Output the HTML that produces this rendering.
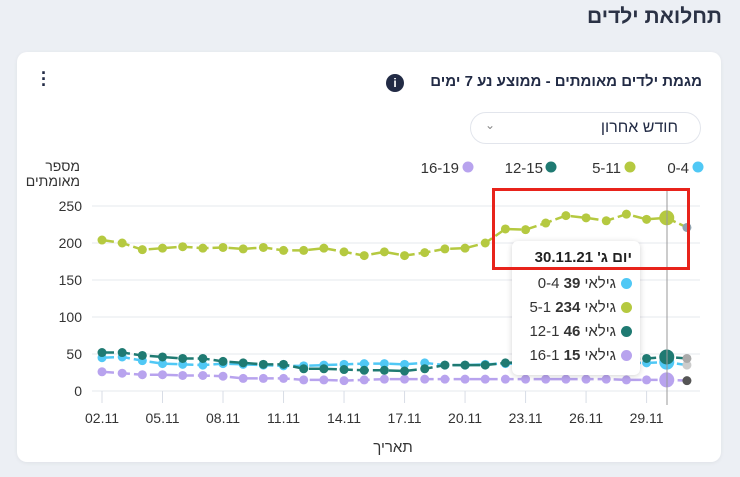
<!DOCTYPE html>
<html><head><meta charset="utf-8">
<style>
body{margin:0;width:740px;height:477px;background:#eceff4;font-family:"Liberation Sans","Noto Sans CJK SC",sans-serif;overflow:hidden;position:relative;color:#222b45}
.abs{position:absolute}
.row{position:absolute;right:8px;direction:ltr;white-space:nowrap}
.dot{display:inline-block;width:11px;height:11px;border-radius:50%;margin-left:5px;vertical-align:-1px}
</style></head><body>
<div class="abs" style="right:18px;top:5px;font-size:21px;font-weight:bold;color:#2b3245;direction:rtl">תחלואת ילדים</div>
<div class="abs" style="left:17px;top:52px;width:704px;height:410px;background:#fff;border-radius:10px;box-shadow:0 1px 4px rgba(0,0,0,0.06)"></div>
<div class="abs" style="right:38px;top:73px;font-size:15px;font-weight:bold;direction:rtl;color:#222b45">מגמת ילדים מאומתים - ממוצע נע 7 ימים</div>
<div class="abs" style="left:386px;top:74px;width:18px;height:18px;border-radius:50%;background:#222b45;color:#fff;font-size:12px;font-weight:bold;text-align:center;line-height:18px">i</div>
<div class="abs" style="left:38px;top:70px;width:12px;font-size:18px;font-weight:bold;line-height:6px;text-align:center">·<br>·<br>·</div>
<div class="abs" style="left:470px;top:112px;width:231px;height:32px;border:1px solid #e2e5ec;border-radius:16px;box-sizing:border-box">
<span class="abs" style="right:22px;top:6px;font-size:16px;direction:rtl">חודש אחרון</span>
<span class="abs" style="left:14px;top:5px;font-size:12px;color:#888">⌄</span></div>
<svg class="abs" style="left:0;top:0" width="740" height="477">
<g id="legend" font-size="15" fill="#333">
<g><circle cx="698" cy="167" r="5.5" fill="#50c8f5"/><text x="689" y="173" text-anchor="end">0-4</text></g>
<g><circle cx="630" cy="167" r="5.5" fill="#b5c940"/><text x="621" y="173" text-anchor="end">5-11</text></g>
<g><circle cx="551" cy="167" r="5.5" fill="#1f7a72"/><text x="543" y="173" text-anchor="end">12-15</text></g>
<g><circle cx="468" cy="167" r="5.5" fill="#b8a3ee"/><text x="459" y="173" text-anchor="end">16-19</text></g>
</g>
<text x="80" y="171" font-size="14" fill="#333" text-anchor="end">מספר</text>
<text x="80" y="186" font-size="14" fill="#333" text-anchor="end">מאומתים</text>
<g id="grid"></g><g id="xaxis"></g><g id="series"></g>
<text x="393" y="452" font-size="15" fill="#333" text-anchor="middle">תאריך</text>
<line x1="667" y1="188" x2="667" y2="405" stroke="#999" stroke-width="1"/>
</svg>
<div class="abs" style="left:512px;top:241px;width:128px;height:134px;background:#fff;border-radius:6px;box-shadow:0 1px 6px rgba(0,0,0,0.18);font-size:15px;color:#333">
<div class="row" style="top:8px;font-weight:bold;color:#222;direction:rtl">יום ג' 30.11.21</div>
<div class="row" style="top:34px">0-4 גילאי <b>39</b><span class="dot" style="background:#50c8f5"></span></div>
<div class="row" style="top:58px">5-1 גילאי <b>234</b><span class="dot" style="background:#b5c940"></span></div>
<div class="row" style="top:82px">12-1 גילאי <b>46</b><span class="dot" style="background:#1f7a72"></span></div>
<div class="row" style="top:106px">16-1 גילאי <b>15</b><span class="dot" style="background:#b8a3ee"></span></div>
</div>
<div class="abs" style="left:492px;top:188px;width:192px;height:76px;border:3px solid #e8231b"></div>
<script>
const dates=["02.11","03.11","04.11","05.11","06.11","07.11","08.11","09.11","10.11","11.11","12.11","13.11","14.11","15.11","16.11","17.11","18.11","19.11","20.11","21.11","22.11","23.11","24.11","25.11","26.11","27.11","28.11","29.11","30.11","01.12"];
const tickLabels=["02.11","05.11","08.11","11.11","14.11","17.11","20.11","23.11","26.11","29.11"];
const yTicks=[0,50,100,150,200,250];
const s04=[45,46,41,37,36,35,37,36,35,34,34,35,36,37,37,36,38,35,35,36,37,37,38,38,39,39,38,38,39,35];
const s511=[204,200,191,193,195,193,194,192,194,190,190,193,188,183,188,183,187,192,193,200,219,218,227,237,234,230,239,232,234,221];
const s1215=[52,52,48,46,44,44,40,38,36,36,30,30,29,28,28,27,30,35,35,35,38,39,40,41,42,42,43,44,46,44];
const s1619=[26,24,22,22,21,21,20,17,17,17,15,15,14,15,16,16,16,16,16,16,16,16,16,16,16,16,15,15,15,14];
const NS="http://www.w3.org/2000/svg";
const x=i=>102+i*20.17, y=v=>391-v*0.74;
function mk(t,a,p){const e=document.createElementNS(NS,t);for(const k in a)e.setAttribute(k,a[k]);p.appendChild(e);return e;}
const grid=document.getElementById('grid');
yTicks.forEach(v=>{
 const l=mk('line',{x1:92,x2:700,y1:y(v),y2:y(v),stroke:'#e6e8ee'},grid);
 
 
 const t=mk('text',{x:82,y:y(v)+5,'font-size':14,fill:'#333','text-anchor':'end'},grid);
 t.textContent=v;
 
 
});
const xa=document.getElementById('xaxis');
tickLabels.forEach(lb=>{
 const i=dates.indexOf(lb);
 const tk=mk('line',{x1:x(i),x2:x(i),y1:391,y2:403,stroke:'#d8dde6'},xa);
 
 
 const t=mk('text',{x:x(i),y:423,'font-size':14,fill:'#333','text-anchor':'middle'},xa);
 t.textContent=lb;
 
 
});
const ser=document.getElementById('series');
const defs=[[s1619,'#b8a3ee','16-19','#555'],[s04,'#50c8f5','0-4','#ccc'],[s1215,'#1f7a72','12-15','#aaa'],[s511,'#b5c940','5-11','#8fa3b0']];
defs.forEach(([d,c,n,last])=>{
 const pts=d.map((v,i)=>x(i)+','+y(v)).join(' ');
 const pl=mk('polyline',{points:pts,fill:'none',stroke:c,'stroke-width':2.5,'stroke-dasharray':'12 4'},ser);
 
 
 d.forEach((v,i)=>{
  const big=i===28;
  const pt=mk('circle',{cx:x(i),cy:y(v),r:big?7.5:4.5,fill:i===d.length-1?last:c},ser);
  
  
 });
});
</script>
</body></html>
